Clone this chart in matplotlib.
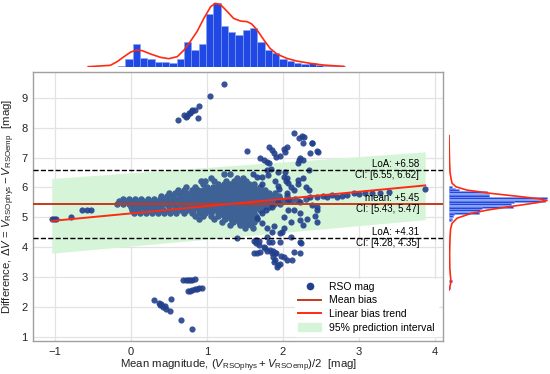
import matplotlib
matplotlib.use("Agg")
import matplotlib.pyplot as plt
import numpy as np
from matplotlib.lines import Line2D
from matplotlib.patches import Patch

plt.rcParams["font.family"] = ["Liberation Sans", "DejaVu Sans"]
plt.rcParams["mathtext.fontset"] = "custom"
plt.rcParams["mathtext.rm"] = "Liberation Sans"
plt.rcParams["mathtext.it"] = "Liberation Sans:italic"

# ---- data ----
# dense cluster: one y level per row, x values along it
core_y = [6.45, 6.30, 6.22, 6.12, 6.02, 5.92, 5.82, 5.72, 5.62, 5.53, 5.44,
          5.34, 5.24, 5.14, 5.04, 4.94, 4.84, 4.74, 4.64]
core_x = [
    [1.22, 1.30],
    [1.05, 1.40, 1.48],
    [0.92, 0.98, 1.10, 1.25, 1.35, 1.45, 1.52],
    [0.95, 1.15, 1.22, 1.30, 1.36, 1.42, 1.50, 1.56, 1.62],
    [0.72, 0.85, 1.00, 1.08, 1.14, 1.20, 1.26, 1.32, 1.38, 1.44, 1.50, 1.56, 1.62, 1.70],
    [0.62, 0.70, 0.80, 0.88, 0.95, 1.02, 1.08, 1.14, 1.20, 1.26, 1.32, 1.38, 1.44, 1.50,
     1.56, 1.62, 1.68, 1.76],
    [0.50, 0.58, 0.66, 0.74, 0.82, 0.90, 0.96, 1.02, 1.08, 1.14, 1.20, 1.26, 1.32, 1.38,
     1.44, 1.50, 1.56, 1.62, 1.68, 1.74, 1.82, 1.90],
    [0.40, 0.48, 0.56, 0.64, 0.72, 0.80, 0.86, 0.92, 0.98, 1.04, 1.10, 1.16, 1.22, 1.28,
     1.34, 1.40, 1.46, 1.52, 1.58, 1.64, 1.70, 1.78, 1.86, 1.95, 2.05],
    [-0.10, -0.02, 0.06, 0.14, 0.22, 0.30, 0.38, 0.46, 0.54, 0.62, 0.70, 0.78, 0.84, 0.90,
     0.96, 1.02, 1.08, 1.14, 1.20, 1.26, 1.32, 1.38, 1.44, 1.50, 1.56, 1.62, 1.68, 1.74,
     1.80, 1.88, 1.96, 2.06, 2.16, 2.30],
    [-0.15, -0.08, 0.00, 0.08, 0.16, 0.24, 0.32, 0.40, 0.48, 0.56, 0.64, 0.72, 0.80, 0.86,
     0.92, 0.98, 1.04, 1.10, 1.16, 1.22, 1.28, 1.34, 1.40, 1.46, 1.52, 1.58, 1.64, 1.70,
     1.76, 1.84, 1.92, 2.00, 2.10, 2.20],
    [-0.18, -0.10, -0.02, 0.06, 0.14, 0.22, 0.30, 0.38, 0.46, 0.54, 0.62, 0.70, 0.76, 0.82,
     0.88, 0.94, 1.00, 1.06, 1.12, 1.18, 1.24, 1.30, 1.36, 1.42, 1.48, 1.54, 1.60, 1.66,
     1.72, 1.80, 1.88, 1.96],
    [0.00, 0.08, 0.16, 0.24, 0.32, 0.40, 0.50, 0.60, 0.68, 0.76, 0.82, 0.88, 0.94, 1.00,
     1.06, 1.12, 1.18, 1.24, 1.30, 1.36, 1.42, 1.48, 1.54, 1.60, 1.66, 1.74, 1.82],
    [0.02, 0.10, 0.18, 0.26, 0.34, 0.42, 0.50, 0.58, 0.66, 0.74, 0.82, 0.90, 0.96, 1.02,
     1.08, 1.14, 1.20, 1.26, 1.32, 1.38, 1.44, 1.50, 1.56, 1.62, 1.70],
    [0.04, 0.12, 0.20, 0.28, 0.36, 0.44, 0.52, 0.60, 0.70, 0.80, 0.90, 0.98, 1.06, 1.14,
     1.20, 1.26, 1.32, 1.38, 1.44, 1.50, 1.56, 1.62],
    [0.85, 0.95, 1.05, 1.15, 1.22, 1.28, 1.34, 1.40, 1.46, 1.52, 1.58, 1.64],
    [0.90, 1.10, 1.24, 1.32, 1.40, 1.46, 1.52, 1.58, 1.66],
    [1.20, 1.34, 1.42, 1.50, 1.56, 1.62],
    [1.30, 1.44, 1.52, 1.58],
    [1.50, 1.60],
]

# sparse points (x, y)
sparse_pts = [
    # left tail
    (-1.04, 4.93), (-1.01, 4.93), (-0.99, 4.94), (-0.79, 5.00), (-0.64, 5.24),
    (-0.58, 5.24), (-0.52, 5.24),
    # upper left group
    (1.23, 9.45), (1.04, 9.06), (0.62, 8.25), (0.70, 8.42), (0.72, 8.36), (0.74, 8.40),
    (0.76, 8.50), (0.78, 8.48), (0.80, 8.55), (0.81, 8.58), (0.84, 8.60), (0.89, 8.73),
    (0.88, 8.32),
    # two short lines near 2.5-2.9
    (0.69, 2.89), (0.72, 2.89), (0.75, 2.90), (0.78, 2.91), (0.81, 2.92), (0.84, 2.93),
    (0.75, 2.53), (0.78, 2.55), (0.81, 2.57), (0.84, 2.59), (0.87, 2.61), (0.90, 2.63),
    (0.93, 2.64),
    # low scattered
    (0.31, 2.23), (0.37, 2.12), (0.39, 2.06), (0.40, 2.10), (0.42, 2.00), (0.45, 2.02),
    (0.46, 1.95), (0.51, 1.87), (0.53, 2.26), (0.66, 1.58), (0.80, 1.27),
    # upper right outliers
    (1.53, 7.23), (2.14, 7.83), (2.21, 7.64), (2.25, 7.72), (2.28, 7.68), (2.38, 7.50),
    (2.45, 7.23), (2.27, 6.92), (2.21, 6.92), (2.05, 7.34), (2.01, 7.30), (2.03, 7.20),
    (1.96, 7.05), (1.88, 7.15), (1.81, 7.36), (1.86, 7.25), (1.75, 6.92), (1.70, 6.97),
    (1.79, 6.86), (1.81, 6.80), (1.84, 6.60), (2.23, 6.97), (2.20, 6.80), (2.34, 6.58),
    (2.36, 7.15), (2.46, 7.19), (2.38, 7.47), (2.27, 7.50), (1.66, 6.36), (1.93, 6.53),
    (2.01, 6.36), (2.05, 6.30), (2.04, 6.20), (2.07, 6.14), (2.14, 5.91), (1.93, 6.04),
    (1.72, 6.36), (1.79, 6.58), (1.91, 7.03), (2.03, 6.52), (2.20, 6.25), (2.27, 6.30),
    (2.10, 6.02), (2.34, 5.91), (1.60, 6.45), (1.80, 6.42), (1.90, 6.20), (1.72, 6.10),
    # lower right outliers
    (1.40, 4.32), (1.65, 4.24), (1.62, 4.20), (1.68, 4.22), (1.75, 4.02), (1.79, 3.86),
    (1.66, 3.82), (1.70, 3.85), (1.87, 3.88), (1.85, 3.80), (1.91, 3.80), (1.89, 3.57),
    (1.94, 3.40), (1.79, 4.33), (1.64, 4.13), (1.69, 4.08), (1.62, 3.80), (1.76, 3.98),
    (1.81, 4.18), (1.83, 3.90), (1.87, 3.68), (1.90, 3.79), (1.88, 3.51), (1.92, 3.35),
    (2.01, 3.68), (2.05, 3.57), (2.14, 3.85), (2.22, 3.80), (2.10, 4.35), (1.96, 4.18),
    (2.23, 4.18), (2.24, 4.15), (1.98, 3.70), (2.12, 3.58), (1.96, 3.44), (1.86, 4.18),
    # spread inside the band on the right
    (2.07, 5.24), (2.23, 4.91), (2.27, 4.74), (2.07, 5.57), (1.94, 5.52), (1.86, 5.35),
    (1.78, 5.24), (1.72, 5.13), (1.66, 4.97), (1.72, 4.80), (1.79, 4.64), (1.88, 4.70),
    (1.99, 4.52), (2.01, 4.65), (1.96, 4.46), (1.86, 4.52), (2.23, 5.15), (2.32, 4.95),
    (2.10, 4.85), (2.42, 5.05), (2.45, 5.35), (2.20, 6.10), (2.30, 6.00), (2.38, 5.40),
    (1.95, 5.95), (2.05, 5.80), (2.01, 5.02), (2.14, 5.24), (2.23, 5.52), (2.45, 5.24),
    (2.45, 4.85),
    # tail to the right
    (2.35, 5.68), (2.45, 5.69), (2.52, 5.72), (2.58, 5.67), (2.65, 5.74), (2.71, 5.69),
    (2.78, 5.70), (2.84, 5.75), (2.93, 5.81), (3.00, 5.79), (3.08, 5.80), (3.17, 5.82),
    (3.28, 5.82), (3.39, 5.86), (3.87, 5.95),
]

mean_bias = 5.45
loa_upper, loa_lower = 6.58, 4.31
ci_mean = (5.43, 5.47)
ci_upper = (6.55, 6.62)
ci_lower = (4.28, 4.35)

trend_x = [-1.04, 3.87]
trend_intercept, trend_slope = 5.13, 0.242
pi_lo = [3.80, 4.92]
pi_hi = [6.30, 7.19]

# top marginal histogram of the mean magnitude
top_bin_start, top_bin_width = -0.17, 0.0965
top_counts = [2, 22, 68, 26, 24, 15, 15, 10, 22, 75, 50, 67, 157, 190, 122, 103, 94,
              110, 115, 74, 50, 40, 22, 18, 10, 8, 10, 4, 3, 2, 1]
top_kde_x = [-0.56, -0.27, -0.18, -0.09, 0.00, 0.08, 0.15, 0.26, 0.39, 0.50, 0.61, 0.70,
             0.78, 0.87, 0.96, 1.05, 1.11, 1.18, 1.27, 1.35, 1.44, 1.53, 1.59, 1.66, 1.75,
             1.83, 1.92, 2.05, 2.18, 2.36, 2.53, 2.66, 2.80]
top_kde_h = [0, 4, 15, 30, 44, 50, 48, 38, 28, 24, 30, 50, 75, 105, 145, 180, 190, 186,
             165, 145, 137, 135, 128, 110, 80, 55, 38, 25, 17, 10, 5, 3, 1]

# right marginal histogram of the difference
right_bin_height = 0.0667
right_centers = [6.03, 5.96, 5.90, 5.83, 5.76, 5.70, 5.63, 5.56, 5.50, 5.43, 5.36, 5.30,
                 5.23, 5.16, 5.10, 5.03, 4.96, 4.90, 2.88, 2.62]
right_counts = [3, 6, 10, 38, 40, 40, 98, 96, 65, 62, 64, 33, 31, 30, 5, 4, 3, 2, 3, 1]
right_kde_y = [7.73, 7.2, 6.8, 6.5, 6.3, 6.14, 6.02, 5.91, 5.80, 5.69, 5.62, 5.56, 5.49,
               5.41, 5.33, 5.24, 5.13, 4.97, 4.80, 4.6, 4.3, 3.8, 3.3, 3.0, 2.85, 2.7, 2.57]
right_kde_w = [0, 0.3, 0.6, 1, 2, 3, 7, 18, 42, 72, 90, 98, 88, 72, 55, 38, 22, 8, 3, 1.5,
               1, 0.6, 0.8, 1.5, 2, 1, 0]

# ---- build arrays ----
cx = np.concatenate([np.array(xs) for xs in core_x])
cy = np.concatenate([np.full(len(xs), y) for xs, y in zip(core_x, core_y)])
sx = np.array([p[0] for p in sparse_pts])
sy = np.array([p[1] for p in sparse_pts])

point_col = "#22408c"
core_col = "#3e6196"
mean_col = "#c8381a"
trend_col = "#ff2a12"
band_col = "#d6f5d8"
hist_col = "#1f48e4"
kde_col = "#ff2a12"

fig = plt.figure(figsize=(5.5, 3.74), dpi=100)
ax = fig.add_axes([0.06, 0.0882, 0.746, 0.7193])
ax_top = fig.add_axes([0.06, 0.8217, 0.746, 0.1783])
ax_right = fig.add_axes([0.8164, 0.0882, 0.1836, 0.7193])

xlim = (-1.286, 4.108)
ylim = (0.863, 9.86)

# main panel
ax.fill_between(trend_x, pi_lo, pi_hi, color=band_col, lw=0, zorder=1)
ax.scatter(cx, cy, s=22, color=core_col, alpha=1.0, lw=0, zorder=2)
ax.scatter(sx, sy, s=20, color=point_col, alpha=0.9, lw=0, zorder=2)
ax.axhline(loa_upper, color="black", ls="--", lw=1.0, zorder=3)
ax.axhline(loa_lower, color="black", ls="--", lw=1.0, zorder=3)
ax.axhline(mean_bias, color=mean_col, lw=1.4, zorder=4)
tx = np.array(trend_x)
ax.plot(tx, trend_intercept + trend_slope * tx, color=trend_col, lw=1.4, zorder=5)

tx_lab = 3.79
for val, ci, name in [(loa_upper, ci_upper, "LoA"), (mean_bias, ci_mean, "mean"),
                      (loa_lower, ci_lower, "LoA")]:
    ax.annotate(f"{name}: +{val:.2f}", (tx_lab, val), xytext=(0, 0.8),
                textcoords="offset points", ha="right", va="bottom", fontsize=7, zorder=6)
    ax.annotate(f"CI: [{ci[0]:.2f}, {ci[1]:.2f}]", (tx_lab, val), xytext=(0, -0.3),
                textcoords="offset points", ha="right", va="top", fontsize=7, zorder=6)

ax.set_xlim(xlim)
ax.set_ylim(ylim)
ax.set_xticks([-1, 0, 1, 2, 3, 4])
ax.set_yticks(range(1, 10))
ax.grid(True, color="#e3e3e3", lw=0.9)
ax.set_axisbelow(True)
for sp in ax.spines.values():
    sp.set_color("#a0a0a0")
    sp.set_linewidth(1.0)
ax.tick_params(length=0, labelsize=8, pad=4, colors="#222222")
ax.set_xlabel(r"Mean magnitude, $(V_{\mathrm{RSOphys}}+V_{\mathrm{RSOemp}})/2$  [mag]",
              fontsize=8.2, labelpad=0.5, color="#222222")
ax.set_ylabel(r"Difference, $\Delta V$ = $V_{\mathrm{RSOphys}}-V_{\mathrm{RSOemp}}$  [mag]",
              fontsize=8.2, labelpad=3, color="#222222")

handles = [
    Line2D([], [], marker="o", ls="", color=point_col, markersize=4.5),
    Line2D([], [], color=mean_col, lw=1.4),
    Line2D([], [], color=trend_col, lw=1.4),
    Patch(color=band_col),
]
labels = ["RSO mag", "Mean bias", "Linear bias trend", "95% prediction interval"]
ax.legend(handles, labels, loc="lower right", fontsize=7.5, frameon=True,
          framealpha=1, edgecolor="white", facecolor="white", borderpad=0.3,
          handlelength=2.2, labelspacing=0.35)

# top marginal
edges = top_bin_start + top_bin_width * np.arange(len(top_counts))
ax_top.bar(edges, top_counts, width=top_bin_width, align="edge", color=hist_col,
           edgecolor="#8aa2f2", lw=0.4)
ax_top.plot(top_kde_x, top_kde_h, color=kde_col, lw=1.2)
ax_top.set_xlim(xlim)
ax_top.set_ylim(0, 200)
ax_top.axis("off")

# right marginal
ax_right.barh(right_centers, right_counts, height=right_bin_height, color=hist_col,
              edgecolor="#8aa2f2", lw=0.4)
ax_right.plot(right_kde_w, right_kde_y, color=kde_col, lw=1.2)
ax_right.set_ylim(ylim)
ax_right.set_xlim(0, 101)
ax_right.axis("off")

fig.savefig("out.png", dpi=100)
